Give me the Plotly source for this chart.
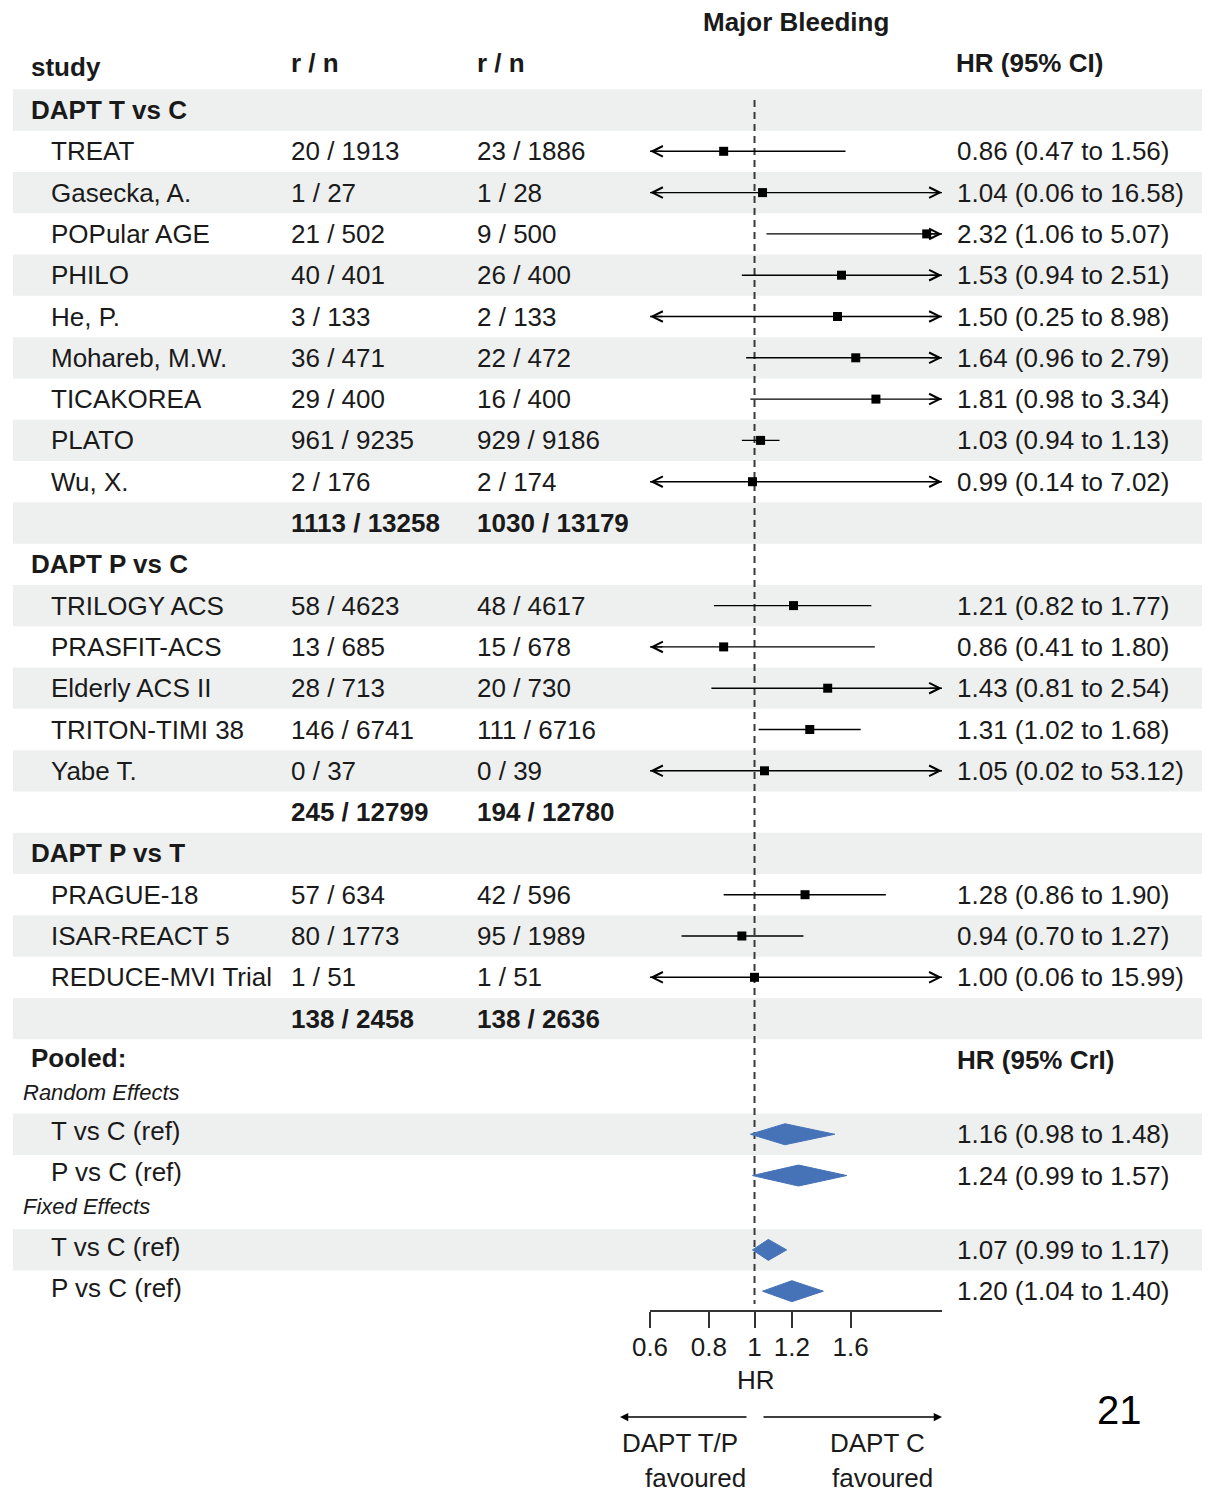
import math
import plotly.graph_objects as go

W, H = 1211, 1494

# ---------------- data ----------------
title = "Major Bleeding"
col_headers = ["study", "r / n", "r / n", "HR (95% CI)"]
group_names = ["DAPT T vs C", "DAPT P vs C", "DAPT P vs T"]

tc_study = ["TREAT", "Gasecka, A.", "POPular AGE", "PHILO", "He, P.",
            "Mohareb, M.W.", "TICAKOREA", "PLATO", "Wu, X."]
tc_rn_a = ["20 / 1913", "1 / 27", "21 / 502", "40 / 401", "3 / 133",
           "36 / 471", "29 / 400", "961 / 9235", "2 / 176"]
tc_rn_b = ["23 / 1886", "1 / 28", "9 / 500", "26 / 400", "2 / 133",
           "22 / 472", "16 / 400", "929 / 9186", "2 / 174"]
tc_hr = [0.86, 1.04, 2.32, 1.53, 1.50, 1.64, 1.81, 1.03, 0.99]
tc_lo = [0.47, 0.06, 1.06, 0.94, 0.25, 0.96, 0.98, 0.94, 0.14]
tc_hi = [1.56, 16.58, 5.07, 2.51, 8.98, 2.79, 3.34, 1.13, 7.02]
tc_total = ["1113 / 13258", "1030 / 13179"]

pc_study = ["TRILOGY ACS", "PRASFIT-ACS", "Elderly ACS II", "TRITON-TIMI 38", "Yabe T."]
pc_rn_a = ["58 / 4623", "13 / 685", "28 / 713", "146 / 6741", "0 / 37"]
pc_rn_b = ["48 / 4617", "15 / 678", "20 / 730", "111 / 6716", "0 / 39"]
pc_hr = [1.21, 0.86, 1.43, 1.31, 1.05]
pc_lo = [0.82, 0.41, 0.81, 1.02, 0.02]
pc_hi = [1.77, 1.80, 2.54, 1.68, 53.12]
pc_total = ["245 / 12799", "194 / 12780"]

pt_study = ["PRAGUE-18", "ISAR-REACT 5", "REDUCE-MVI Trial"]
pt_rn_a = ["57 / 634", "80 / 1773", "1 / 51"]
pt_rn_b = ["42 / 596", "95 / 1989", "1 / 51"]
pt_hr = [1.28, 0.94, 1.00]
pt_lo = [0.86, 0.70, 0.06]
pt_hi = [1.90, 1.27, 15.99]
pt_total = ["138 / 2458", "138 / 2636"]

pooled_labels = ["T vs C (ref)", "P vs C (ref)"]
re_hr = [1.16, 1.24]
re_lo = [0.98, 0.99]
re_hi = [1.48, 1.57]
fe_hr = [1.07, 1.20]
fe_lo = [0.99, 1.04]
fe_hi = [1.17, 1.40]

axis_ticks = [0.6, 0.8, 1, 1.2, 1.6]
axis_tick_text = ["0.6", "0.8", "1", "1.2", "1.6"]
axis_min, axis_max = 0.6, 2.5

# ---------------- layout helpers ----------------
FONT = "Liberation Sans, Arial, sans-serif"
TXT = "#1a1a1a"
SHADE = "#eef0f0"
BLUE = "#4673b8"
ROW0_PX, ROW_PX = 110.0, 41.3          # pixel centre of first row, row pitch


def k_of(px):
    """row units for a pixel height on the page"""
    return (px - ROW0_PX) / ROW_PX


def xp(px):
    return px / W


annotations = []
shapes = []


def text(x_px, k, s, size=26, anchor="left", color=TXT):
    annotations.append(dict(x=xp(x_px), y=k, xref="paper", yref="y", text=s,
                            showarrow=False, xanchor=anchor, yanchor="middle",
                            borderpad=0, font=dict(family=FONT, size=size, color=color)))


def band(k):
    shapes.append(dict(type="rect", xref="paper", yref="y", x0=xp(13), x1=xp(1202),
                       y0=k - 0.5, y1=k + 0.5, fillcolor=SHADE, line_width=0,
                       layer="below"))


# ---------------- rows ----------------
X_STUDY, X_GROUP, X_RNA, X_RNB, X_HR = 50, 30, 290, 476, 956

ci_x, ci_y, pt_x, pt_y = [], [], [], []
arrow_heads = []  # (value, k, direction)

sections = [
    (group_names[0], tc_study, tc_rn_a, tc_rn_b, tc_hr, tc_lo, tc_hi, tc_total),
    (group_names[1], pc_study, pc_rn_a, pc_rn_b, pc_hr, pc_lo, pc_hi, pc_total),
    (group_names[2], pt_study, pt_rn_a, pt_rn_b, pt_hr, pt_lo, pt_hi, pt_total),
]

k = 0
for gname, names, rna, rnb, hr, lo, hi, total in sections:
    text(X_GROUP, k, f"<b>{gname}</b>")
    k += 1
    for i in range(len(names)):
        text(X_STUDY, k, names[i])
        text(X_RNA, k, rna[i])
        text(X_RNB, k, rnb[i])
        text(X_HR, k, f"{hr[i]:.2f} ({lo[i]:.2f} to {hi[i]:.2f})")
        a = max(lo[i], axis_min)
        b = min(hi[i], axis_max)
        ci_x += [a, b, None]
        ci_y += [k, k, None]
        pt_x.append(hr[i])
        pt_y.append(k)
        if lo[i] < axis_min:
            arrow_heads.append((axis_min, k, -1))
        if hi[i] > axis_max:
            arrow_heads.append((axis_max, k, 1))
        k += 1
    text(X_RNA, k, f"<b>{total[0]}</b>")
    text(X_RNB, k, f"<b>{total[1]}</b>")
    k += 1

# shaded bands on alternating rows of the study table
for r in range(0, k, 2):
    band(r)

# pooled section
k_pooled = k
k_re_label = k + 0.8
k_re = [k + 1.8, k + 2.8]
k_fe_label = k + 3.55
k_fe = [k + 4.6, k + 5.6]
band(k_re[0])
band(k_fe[0])

text(X_GROUP, k_pooled - 0.05, "<b>Pooled:</b>")
text(X_HR, k_pooled, "<b>HR (95% CrI)</b>")
text(22, k_re_label, "<i>Random Effects</i>", size=22)
text(22, k_fe_label, "<i>Fixed Effects</i>", size=22)

diamonds = []
for kk_list, hr, lo, hi in [(k_re, re_hr, re_lo, re_hi), (k_fe, fe_hr, fe_lo, fe_hi)]:
    for i, kk in enumerate(kk_list):
        text(X_STUDY, kk - 0.08, pooled_labels[i])
        text(X_HR, kk, f"{hr[i]:.2f} ({lo[i]:.2f} to {hi[i]:.2f})")
        diamonds.append((hr[i], lo[i], hi[i], kk))

# header rows
text(796, k_of(22), f"<b>{title}</b>", anchor="center")
text(30, k_of(67), f"<b>{col_headers[0]}</b>")
text(X_RNA, k_of(63), f"<b>{col_headers[1]}</b>")
text(X_RNB, k_of(63), f"<b>{col_headers[2]}</b>")
text(X_HR - 1, k_of(63), f"<b>{col_headers[3]}</b>")

# ---------------- figure ----------------
fig = go.Figure()

# line of no effect
fig.add_trace(go.Scatter(x=[1, 1], y=[k_of(100), k_of(1304)], mode="lines",
                         line=dict(color="#3a3a3a", width=2, dash="7px,5px"),
                         hoverinfo="skip", showlegend=False))

# confidence intervals and point estimates
fig.add_trace(go.Scatter(x=ci_x, y=ci_y, mode="lines",
                         line=dict(color="black", width=1.4),
                         hoverinfo="skip", showlegend=False))
fig.add_trace(go.Scatter(x=pt_x, y=pt_y, mode="markers",
                         marker=dict(symbol="square", size=9, color="black"),
                         showlegend=False))

# pooled estimates as diamonds
half_h = 10.5 / ROW_PX
for hr, lo, hi, kk in diamonds:
    fig.add_trace(go.Scatter(x=[lo, hr, hi, hr, lo], y=[kk, kk - half_h, kk, kk + half_h, kk],
                             mode="lines", fill="toself", fillcolor=BLUE,
                             line=dict(color=BLUE, width=1), hoverinfo="skip",
                             showlegend=False))

# open arrowheads where the interval runs past the axis
for val, kk, d in arrow_heads:
    annotations.append(dict(x=math.log10(val), y=kk, xref="x", yref="y", text="",
                            showarrow=True, arrowhead=5, arrowsize=1.6, arrowwidth=1.3,
                            arrowcolor="black", ax=-14 * d, ay=0, standoff=0))

# axis title and direction labels
text(756, k_of(1380), "HR", anchor="center")
annotations.append(dict(x=xp(620), y=k_of(1417), xref="paper", yref="y", text="",
                        showarrow=True, arrowhead=2, arrowsize=1.1, arrowwidth=1.5,
                        arrowcolor="black", ax=128, ay=0))
annotations.append(dict(x=xp(942), y=k_of(1417), xref="paper", yref="y", text="",
                        showarrow=True, arrowhead=2, arrowsize=1.1, arrowwidth=1.5,
                        arrowcolor="black", ax=-180, ay=0))
text(680, k_of(1443), "DAPT T/P", anchor="center")
text(695, k_of(1478), "favoured", anchor="center")
text(877, k_of(1443), "DAPT C", anchor="center")
text(882, k_of(1478), "favoured", anchor="center")
text(1119, k_of(1410), "21", size=40, anchor="center", color="black")

fig.update_layout(
    width=W, height=H,
    margin=dict(l=0, r=0, t=0, b=0, pad=0, autoexpand=False),
    paper_bgcolor="white", plot_bgcolor="rgba(0,0,0,0)",
    font=dict(family=FONT, size=26, color=TXT),
    showlegend=False,
    annotations=annotations,
    shapes=shapes,
    xaxis=dict(type="log", domain=[xp(650), xp(942)],
               range=[math.log10(axis_min), math.log10(axis_max)],
               anchor="free", position=1 - 1311 / H, automargin=False,
               showline=True, linecolor="#333333", linewidth=1.5,
               ticks="outside", ticklen=16, tickwidth=1.5, tickcolor="#333333",
               ticklabelstandoff=-3,
               tickvals=axis_ticks, ticktext=axis_tick_text,
               tickfont=dict(family=FONT, size=26, color=TXT),
               showgrid=False, zeroline=False, fixedrange=True),
    yaxis=dict(domain=[0, 1], range=[k_of(H), k_of(0)], visible=False,
               automargin=False, fixedrange=True),
)

fig.write_html("out.html")
